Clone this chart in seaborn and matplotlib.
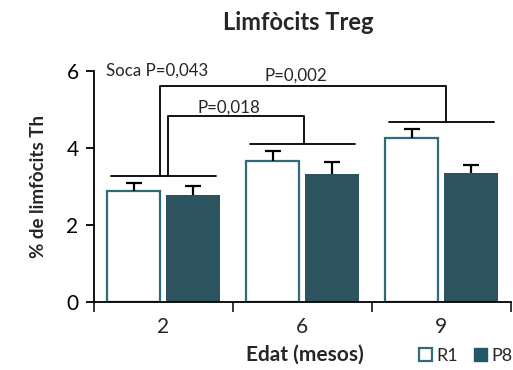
import matplotlib
matplotlib.use("Agg")
import matplotlib.pyplot as plt
import numpy as np
import pandas as pd
import seaborn as sns
from matplotlib.patches import Patch

# data
ages = ["2", "6", "9"]
groups = ["R1", "P8"]
r1_mean = [2.88, 3.66, 4.26]
p8_mean = [2.78, 3.32, 3.35]
r1_err = [0.21, 0.26, 0.23]
p8_err = [0.23, 0.32, 0.21]

# significance annotations: (from group, to group, label, top level)
group_level = [3.27, 4.10, 4.68]
brackets = [
    (0, 2, "P=0,002", 5.61),
    (0, 1, "P=0,018", 4.83),
]
strain_label = "Soca P=0,043"

TEAL = "#245866"
EDGE = "#2f6b79"
FONT = "Lato"

sns.set_theme(style="white")
plt.rcParams["font.family"] = [FONT, "DejaVu Sans"]

df = pd.DataFrame({
    "age": ages * 2,
    "group": ["R1"] * 3 + ["P8"] * 3,
    "value": r1_mean + p8_mean,
})

fig = plt.figure(figsize=(5.13, 3.70), dpi=100)
ax = fig.add_axes([0.183, 0.184, 0.813, 0.624])

sns.barplot(data=df, x="age", y="value", hue="group", hue_order=groups,
            order=ages, palette={"R1": "white", "P8": TEAL},
            width=0.85, gap=0.1, errorbar=None, legend=False, ax=ax)

# style bars and add upward-only error bars
errs = {"R1": r1_err, "P8": p8_err}
for cont, g in zip(ax.containers, groups):
    for i, bar in enumerate(cont):
        if g == "R1":
            bar.set_edgecolor(EDGE)
            bar.set_linewidth(1.6)
        else:
            bar.set_edgecolor(TEAL)
            bar.set_linewidth(0)
        xc = bar.get_x() + bar.get_width() / 2
        h = bar.get_height()
        eb = ax.errorbar(xc, h, yerr=[[0], [errs[g][i]]], fmt="none",
                         ecolor="black", elinewidth=1.6, capsize=5.5,
                         capthick=1.6, zorder=3)
        # keep only the upper cap
        eb[1][0].set_visible(False)

# group lines and brackets
lw = 1.3
for i, lev in enumerate(group_level):
    ax.plot([i - 0.38, i + 0.38], [lev, lev], color="black", lw=lw)

offs = {(0, 2): (-0.025, 0.035), (0, 1): (0.035, 0.01)}
for a, b, lab, top in brackets:
    oa, ob = offs[(a, b)]
    ax.plot([a + oa, a + oa, b + ob, b + ob],
            [group_level[a], top, top, group_level[b]], color="black", lw=lw)

ax.text(0.73, 5.74, "P=0,002", fontsize=12.2, ha="left", va="baseline")
ax.text(0.245, 4.93, "P=0,018", fontsize=12.2, ha="left", va="baseline")
ax.text(-0.41, 5.87, strain_label, fontsize=12.2, ha="left", va="baseline")

ax.set_ylim(0, 6)
ax.set_xlim(-0.5, 2.5)
ax.set_yticks([0, 2, 4, 6])
ax.tick_params(axis="y", labelsize=15, length=6, width=1.3, direction="out",
               left=True, pad=5, colors="black")
ax.set_xticks([-0.5, 0.5, 1.5, 2.5], minor=True)
ax.tick_params(axis="x", which="minor", length=7, width=1.3, direction="out",
               bottom=True)
ax.tick_params(axis="x", which="major", length=0, labelsize=15, pad=11)
for s in ["top", "right"]:
    ax.spines[s].set_visible(False)
for s in ["left", "bottom"]:
    ax.spines[s].set_color("black")
    ax.spines[s].set_linewidth(1.3)

ax.set_xlabel("Edat (mesos)", fontsize=15, fontweight="bold")
ax.set_ylabel("% de limfòcits Th", fontsize=13.5, fontweight="bold")
ax.xaxis.set_label_coords(0.505, -0.185)
ax.yaxis.set_label_coords(-0.113, 0.5)
fig.text(298 / 513, 1 - 23 / 370, "Limfòcits Treg", fontsize=17,
         fontweight="bold", ha="center", va="center")

handles = [Patch(facecolor="white", edgecolor=EDGE, linewidth=1.6, label="R1"),
           Patch(facecolor=TEAL, edgecolor=TEAL, label="P8")]
fig.legend(handles=handles, loc="center left", bbox_to_anchor=(0.803, 0.038),
           ncol=2, frameon=False, fontsize=13, handlelength=0.7,
           handleheight=0.7, handletextpad=0.25, columnspacing=0.9,
           borderaxespad=0)

fig.savefig("out.png", dpi=100)
